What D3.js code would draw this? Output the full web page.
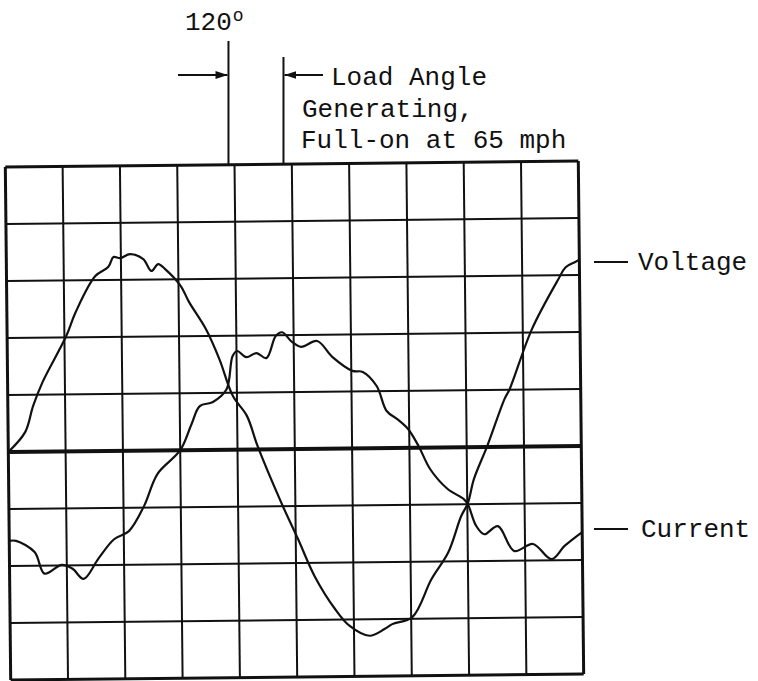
<!DOCTYPE html>
<html>
<head>
<meta charset="utf-8">
<script src="https://cdn.jsdelivr.net/npm/d3@7"></script>
<style>
  body { margin: 0; background: #fff; }
  text { font-family: "Courier New", "Liberation Mono", monospace; fill: #111; }
</style>
</head>
<body>
<div id="container"></div>
<script>
/* Constants and globals */
const width = 758,
    height = 681,
    margin = {top: 164, left: 8, bottom: 4, right: 177};

/* DATA - grid divisions, x across (0-10), y up from the centre line (-4..5) */
const xTicks = d3.range(0, 11);
const yTicks = d3.range(-4, 6);

const voltageX = [0, 0.30, 0.44, 0.61, 1.03, 1.20, 1.55, 1.78, 1.87, 1.99, 2.16, 2.39, 2.53, 2.65, 2.77,
  3.04, 3.18, 3.47, 3.70, 3.93, 4.17, 4.35, 4.75, 5.04, 5.32, 5.67, 5.92, 6.27, 6.54, 6.67,
  7.02, 7.36, 7.66, 7.89, 8.01, 8.12, 8.36, 8.67, 8.76, 9.16, 9.63, 9.76, 9.93, 10];
const voltageY = [0, 0.35, 0.80, 1.22, 2.02, 2.44, 3.07, 3.23, 3.40, 3.38, 3.45, 3.36, 3.15, 3.27, 3.18,
  2.88, 2.60, 2.12, 1.59, 0.94, 0.59, 0.06, -0.93, -1.58, -2.23, -2.81, -3.11, -3.29, -3.17, -3.09,
  -2.97, -2.31, -1.84, -1.21, -0.98, -0.56, 0.02, 0.84, 1.01, 2.06, 2.93, 3.14, 3.23, 3.27];

const currentX = [0, 0.12, 0.44, 0.61, 0.91, 1.10, 1.29, 1.55, 1.83, 2.09, 2.36, 2.60, 3.0, 3.20, 3.35,
  3.58, 3.82, 3.93, 4.01, 4.17, 4.35, 4.52, 4.69, 4.80, 4.97, 5.13, 5.41, 5.67, 6.02, 6.20,
  6.44, 6.61, 6.80, 6.98, 7.16, 7.36, 7.66, 7.94, 8.01, 8.15, 8.29, 8.53, 8.81, 9.14, 9.46,
  9.69, 10];
const currentY = [-1.56, -1.56, -1.76, -2.14, -1.99, -2.06, -2.24, -1.89, -1.55, -1.41, -0.97, -0.41, 0, 0.45, 0.77,
  0.84, 1.06, 1.64, 1.73, 1.62, 1.69, 1.60, 1.99, 2.05, 1.88, 1.79, 1.89, 1.61, 1.36, 1.34,
  1.09, 0.65, 0.50, 0.33, 0.03, -0.38, -0.73, -0.91, -1.0, -1.38, -1.53, -1.39, -1.83, -1.71, -1.98,
  -1.75, -1.51];

const markerX = [3.90, 4.86];   // 120 deg line, load angle line

/*DEFINE SCALES*/
const xScale = d3.scaleLinear()
  .domain([0, 10])
  .range([margin.left, width - margin.right]);

const yScale = d3.scaleLinear()
  .domain([-4, 5])
  .range([height - margin.bottom, margin.top]);

const svg = d3.select("#container")
  .append("svg")
  .attr("width", width)
  .attr("height", height);

// the scanned graticule sits a little crooked
const plot = svg.append("g")
  .attr("transform", "rotate(-0.6, 295, 420)");

//grid
plot.selectAll(".vline")
  .data(xTicks)
  .join("line")
  .attr("class", "vline")
  .attr("x1", d => xScale(d)).attr("x2", d => xScale(d))
  .attr("y1", yScale(5)).attr("y2", yScale(-4))
  .attr("stroke", "#111")
  .attr("stroke-width", d => (d === 0 || d === 10) ? 3 : 2);

plot.selectAll(".hline")
  .data(yTicks)
  .join("line")
  .attr("class", "hline")
  .attr("x1", xScale(0)).attr("x2", xScale(10))
  .attr("y1", d => yScale(d)).attr("y2", d => yScale(d))
  .attr("stroke", "#111")
  .attr("stroke-width", d => d === 0 ? 4 : (d === 5 || d === -4) ? 3 : 2);

//traces
const line = d3.line()
  .x(d => xScale(d[0]))
  .y(d => yScale(d[1]))
  .curve(d3.curveCatmullRom.alpha(0.5));

plot.append("path")
  .attr("d", line(d3.zip(voltageX, voltageY)))
  .attr("fill", "none")
  .attr("stroke", "#111")
  .attr("stroke-width", 2.2);

plot.append("path")
  .attr("d", line(d3.zip(currentX, currentY)))
  .attr("fill", "none")
  .attr("stroke", "#111")
  .attr("stroke-width", 2.2);

/* annotations */
svg.append("defs").append("marker")
  .attr("id", "head")
  .attr("viewBox", "0 0 12 8")
  .attr("refX", 12).attr("refY", 4)
  .attr("markerWidth", 12).attr("markerHeight", 8)
  .attr("markerUnits", "userSpaceOnUse")
  .attr("orient", "auto")
  .append("path")
  .attr("d", "M0,0 L12,4 L0,8 Z")
  .attr("fill", "#111");

const mx0 = xScale(markerX[0]) - 3,
    mx1 = xScale(markerX[1]) - 3;

svg.append("line")
  .attr("x1", mx0).attr("x2", mx0)
  .attr("y1", 41).attr("y2", yScale(5))
  .attr("stroke", "#111").attr("stroke-width", 2);

svg.append("line")
  .attr("x1", mx1).attr("x2", mx1)
  .attr("y1", 57).attr("y2", yScale(5) - 1)
  .attr("stroke", "#111").attr("stroke-width", 2);

svg.append("line")
  .attr("x1", 178).attr("x2", mx0 - 1)
  .attr("y1", 75).attr("y2", 75)
  .attr("stroke", "#111").attr("stroke-width", 2)
  .attr("marker-end", "url(#head)");

svg.append("line")
  .attr("x1", 323).attr("x2", mx1 + 1)
  .attr("y1", 75).attr("y2", 75)
  .attr("stroke", "#111").attr("stroke-width", 2)
  .attr("marker-end", "url(#head)");

// 120 with a raised degree "o"
const deg = svg.append("text").attr("x", 185).attr("y", 30).attr("font-size", 26);
deg.append("tspan").text("120");
deg.append("tspan").attr("dx", 1).attr("dy", -9).attr("font-size", 18).text("o");

svg.append("text").attr("x", 331).attr("y", 85).attr("font-size", 26).text("Load Angle");
svg.append("text").attr("x", 302).attr("y", 117).attr("font-size", 26).text("Generating,");
svg.append("text").attr("x", 301).attr("y", 148).attr("font-size", 26).text("Full-on at 65 mph");

// series labels
const labels = [
  {name: "Voltage", y: 262, tx: 638},
  {name: "Current", y: 529, tx: 641}
];

labels.forEach(l => {
  svg.append("line")
    .attr("x1", 594).attr("x2", 628)
    .attr("y1", l.y).attr("y2", l.y)
    .attr("stroke", "#111").attr("stroke-width", 2);
  svg.append("text")
    .attr("x", l.tx).attr("y", l.y + 8)
    .attr("font-size", 26)
    .text(l.name);
});
</script>
</body>
</html>
